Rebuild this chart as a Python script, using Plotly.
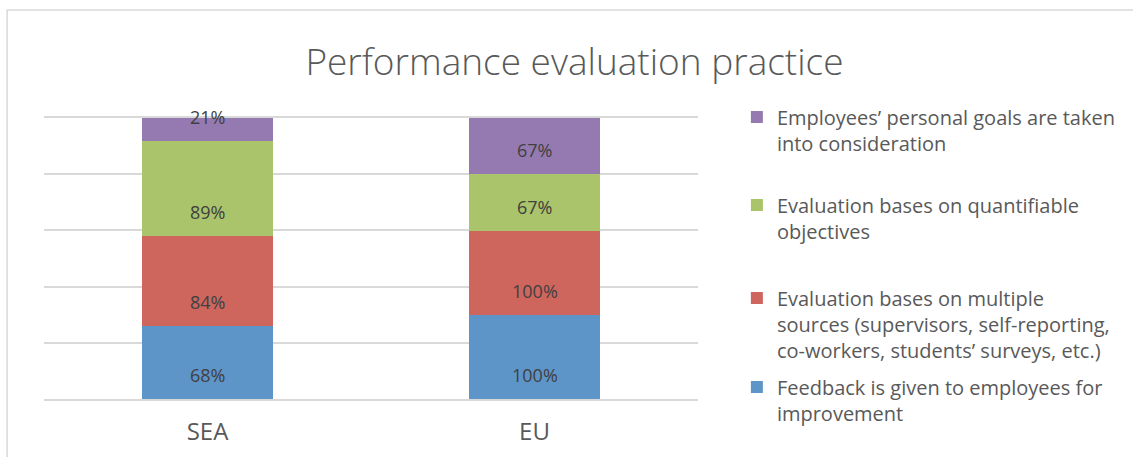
import plotly.graph_objects as go

regions = ["SEA", "EU"]

# values shown on the bars (percent of respondents); columns are drawn 100% stacked
feedback = [68, 100]
multiple_sources = [84, 100]
quantifiable = [89, 67]
personal_goals = [21, 67]

series_names = [
    "Feedback is given to employees for<br>improvement",
    "Evaluation bases on multiple<br>sources (supervisors, self-reporting,<br>co-workers, students’ surveys, etc.)",
    "Evaluation bases on quantifiable<br>objectives",
    "Employees’ personal goals are taken<br>into consideration",
]
series_values = [feedback, multiple_sources, quantifiable, personal_goals]
colors = ["#5E95C9", "#CF665E", "#AAC46B", "#957AB1"]
legend_ids = ["legend4", "legend3", "legend2", "legend"]
legend_y = [0.112, 0.429, 0.760, 1.073]

FONT = "Open Sans"
TEXT = "#595959"

fig = go.Figure()
for name, vals, color, lg in zip(series_names, series_values, colors, legend_ids):
    fig.add_trace(go.Bar(
        x=regions,
        y=vals,
        name=name,
        marker=dict(color=color, line=dict(width=0)),
        width=0.4,
        legend=lg,
    ))

# data labels sit near the base of each segment (like the original chart)
totals = [sum(col) for col in zip(*series_values)]
annotations = []
for i, region in enumerate(regions):
    base = 0.0
    for vals in series_values:
        annotations.append(dict(
            x=region, y=base, xref="x", yref="y",
            text=f"{vals[i]}%", showarrow=False,
            yanchor="middle", yshift=24,
            font=dict(family=FONT, size=18, color="#404040"),
        ))
        base += vals[i] / totals[i] * 100

legend_style = dict(
    x=(739 - 44) / 656, xanchor="left", yanchor="top",
    font=dict(family=FONT, size=20, color=TEXT),
    bgcolor="rgba(0,0,0,0)", valign="top", itemwidth=30,
)
layout_legends = {lg: dict(y=yy, **legend_style) for lg, yy in zip(legend_ids, legend_y)}

fig.update_layout(
    width=1133, height=457,
    barmode="stack", barnorm="percent",
    paper_bgcolor="white", plot_bgcolor="white",
    margin=dict(l=44, r=435, t=118, b=58),
    title=dict(
        text="Performance evaluation practice",
        x=0.507, xanchor="center", y=0.864, yanchor="middle",
        font=dict(family=FONT, size=37, color=TEXT, weight=300),
    ),
    xaxis=dict(
        showgrid=False, zeroline=False, automargin=False,
        showline=True, mirror=True, linecolor="#D9D9D9", linewidth=2,
        tickfont=dict(family=FONT, size=24, color=TEXT),
        ticks="", ticklabelstandoff=10,
    ),
    yaxis=dict(
        range=[0, 100], dtick=20, showticklabels=False, automargin=False,
        showgrid=True, gridcolor="#D9D9D9", gridwidth=2,
        zeroline=False, showline=False,
    ),
    showlegend=True,
    annotations=annotations,
    shapes=[dict(
        type="rect", xref="paper", yref="paper",
        x0=-37 / 656, x1=1200 / 656, y0=-80 / 281, y1=389 / 281,
        line=dict(color="#D9D9D9", width=1.5), layer="below",
    )],
    **layout_legends,
)

fig.write_html(
    "out.html",
    config={"displayModeBar": False},
    post_script="document.body.style.margin = '0';",
)
